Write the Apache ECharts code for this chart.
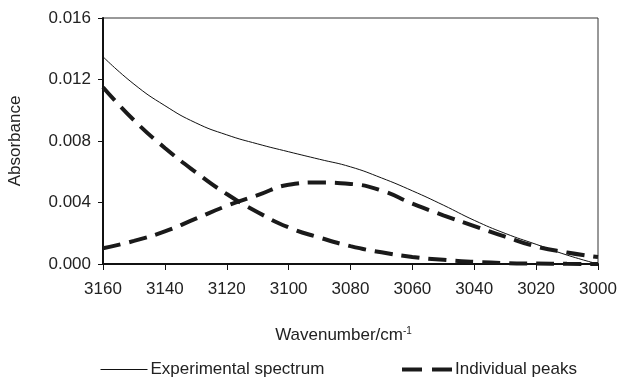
<!DOCTYPE html>
<html><head><meta charset="utf-8">
<script src="https://cdn.jsdelivr.net/npm/echarts@6/dist/echarts.min.js"></script>
<style>html,body{margin:0;padding:0;background:#fff}#c{width:620px;height:378px}</style>
</head><body><div id="c"></div>
<script>
const wavenumbers = [3160,3150,3140,3130,3120,3110,3100,3090,3080,3070,3060,3050,3040,3030,3020,3010,3000];
const experimental = [0.01348,0.0117,0.0103,0.00918,0.0084,0.00781,0.0073,0.00681,0.00632,0.0056,0.00476,0.00383,0.00284,0.00199,0.00128,0.00058,0.0];
const peak1 = [0.0115,0.00935,0.00755,0.00597,0.00455,0.00337,0.00238,0.00172,0.00116,0.00076,0.00046,0.00027,0.00014,0.00006,0.00003,0.00001,0.0];
const peak2 = [0.00102,0.0015,0.00212,0.00295,0.00378,0.00448,0.00515,0.0053,0.00521,0.00478,0.00393,0.00317,0.00247,0.00178,0.00114,0.00075,0.00045];
const xTicks = {min:3000,max:3160,interval:20};
const yTicks = {min:0,max:0.016,interval:0.004};

const pairs = v => wavenumbers.map((w,i)=>[w,v[i]]);
const font = 'Liberation Sans, Arial, sans-serif';
const txt = '#222';
const fs = 17;
const chart = echarts.init(document.getElementById('c'));
const dashStyle = {color:'#1a1a1a', width:4, type:[18,9]};
chart.setOption({
  animation:false,
  textStyle:{fontFamily:font},
  grid:{left:103, top:18, right:22, bottom:114, show:true, borderColor:'#333', borderWidth:1,
        containLabel:false, outerBoundsMode:'none'},
  legend:[
    {data:['Experimental spectrum'], left:95, top:356, itemWidth:47, itemHeight:17, itemGap:0,
     itemStyle:{opacity:0}, lineStyle:{width:1, color:'#111'},
     textStyle:{fontFamily:font, fontSize:fs, color:txt, padding:[0,0,0,-2]}},
    {data:['Individual peaks'], left:395, top:356, itemWidth:50, itemHeight:17,
     itemStyle:{opacity:0}, lineStyle:{width:4, color:'#1a1a1a', type:[20,10]},
     textStyle:{fontFamily:font, fontSize:fs, color:txt, padding:[0,0,0,-2]}}
  ],
  xAxis:{type:'value', inverse:true, min:xTicks.min, max:xTicks.max, interval:xTicks.interval,
    axisLine:{lineStyle:{color:'#111', width:2}}, axisTick:{length:6, lineStyle:{color:'#111', width:1}},
    splitLine:{show:false},
    axisLabel:{fontSize:fs, color:txt, margin:17, fontFamily:font, formatter:v=>String(v)},
    name:'{a|Wavenumber/cm}{b|-1}', nameLocation:'middle', nameGap:62,
    nameTextStyle:{padding:[0,14,0,0], rich:{a:{fontSize:fs, color:txt, fontFamily:font}, b:{fontSize:10, color:txt, fontFamily:font, verticalAlign:'top', padding:[0,0,9,0]}}}
  },
  yAxis:{type:'value', min:yTicks.min, max:yTicks.max, interval:yTicks.interval,
    axisLine:{show:true, lineStyle:{color:'#111', width:2}}, axisTick:{show:true, length:5, lineStyle:{color:'#111', width:1}},
    splitLine:{show:false},
    axisLabel:{fontSize:fs, color:txt, margin:12, fontFamily:font, formatter:v=>v.toFixed(3)},
    name:'Absorbance', nameLocation:'middle', nameGap:79,
    nameTextStyle:{fontSize:fs, color:txt, fontFamily:font}
  },
  series:[
    {name:'Experimental spectrum', type:'line', data:pairs(experimental), smooth:true, symbol:'none',
     lineStyle:{color:'#111', width:1}, itemStyle:{color:'#111'}},
    {name:'Individual peaks', type:'line', data:pairs(peak1), smooth:true, symbol:'none',
     lineStyle:dashStyle, itemStyle:{color:'#1a1a1a'}},
    {name:'Individual peaks', type:'line', data:pairs(peak2), smooth:true, symbol:'none',
     lineStyle:dashStyle, itemStyle:{color:'#1a1a1a'}}
  ]
});
</script></body></html>
